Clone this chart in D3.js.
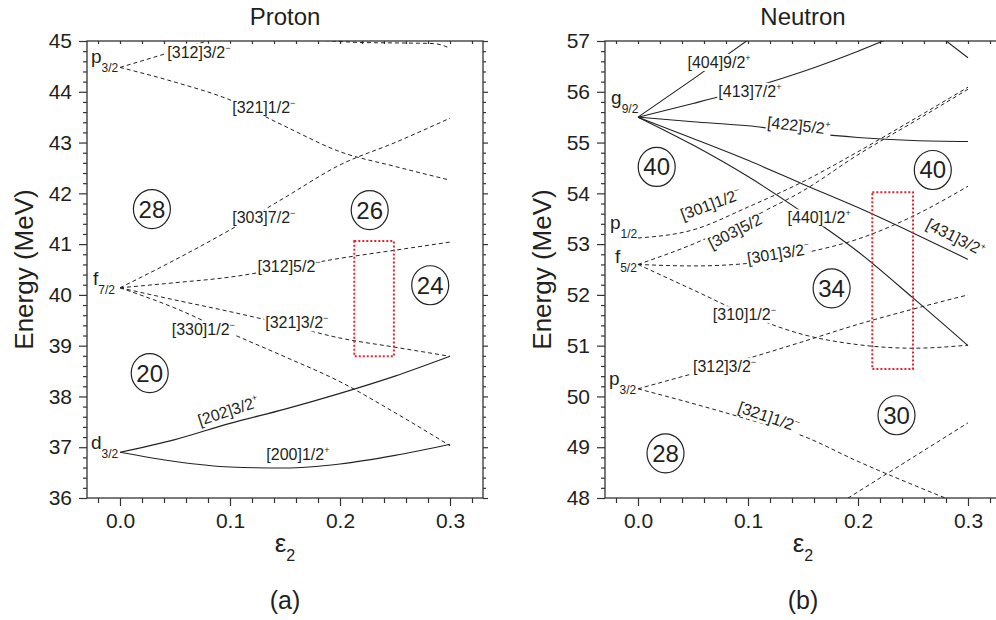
<!DOCTYPE html>
<html>
<head>
<meta charset="utf-8">
<script src="https://cdn.jsdelivr.net/npm/d3@7"></script>
<style>
body { margin: 0; background: #fff; }
text { font-family: "Liberation Sans", Arial, sans-serif; fill: #231f20; }
</style>
</head>
<body>
<script>
// deformation grid for the Nilsson levels
var epsGrid = [0, 0.05, 0.1, 0.15, 0.2, 0.25, 0.3];

// proton levels (MeV)
var p202_32 = [36.9, 37.15, 37.47, 37.75, 38.06, 38.4, 38.79];
var p200_12 = [36.9, 36.72, 36.61, 36.59, 36.67, 36.84, 37.06];
var p303_72 = [40.14, 40.69, 41.28, 41.92, 42.56, 43.0, 43.48];
var p312_52 = [40.14, 40.24, 40.35, 40.53, 40.72, 40.88, 41.04];
var p321_32 = [40.14, 39.9, 39.67, 39.42, 39.15, 38.97, 38.79];
var p330_12 = [40.14, 39.74, 39.25, 38.78, 38.29, 37.68, 37.03];
var p321_12 = [44.48, 44.19, 43.84, 43.32, 42.82, 42.53, 42.26];
var p312_32Eps = [0, 0.04, 0.085];
var p312_32 = [44.48, 44.74, 45.04];
var pTopEps = [0.18, 0.22, 0.26, 0.285, 0.3];
var pTop = [45.02, 44.97, 44.96, 44.95, 44.86];

// neutron levels (MeV)
var n404_92Eps = [0, 0.05, 0.1];
var n404_92 = [55.5, 56.25, 57.02];
var n413_72Eps = [0, 0.05, 0.1, 0.15, 0.2, 0.25];
var n413_72 = [55.5, 55.77, 56.06, 56.4, 56.8, 57.25];
var nTopEps = [0.27, 0.3];
var nTop = [57.17, 56.67];
var n422_52 = [55.5, 55.41, 55.33, 55.2, 55.1, 55.04, 55.02];
var n431_32 = [55.5, 55.08, 54.65, 54.18, 53.72, 53.22, 52.7];
var n440_12 = [55.5, 54.95, 54.33, 53.62, 52.85, 51.94, 51.0];
var n301_12 = [53.12, 53.28, 53.73, 54.23, 54.82, 55.45, 56.09];
var n303_52 = [52.6, 53.0, 53.5, 54.05, 54.76, 55.4, 56.05];
var n301_32 = [52.6, 52.57, 52.62, 52.82, 53.1, 53.55, 54.14];
var n310_12 = [52.6, 52.1, 51.6, 51.22, 51.02, 50.95, 51.01];
var n312_32 = [50.15, 50.45, 50.75, 51.08, 51.42, 51.72, 52.0];
var n321_12 = [50.15, 49.86, 49.55, 49.22, 48.72, 48.26, 47.82];
var nLowEps = [0.18, 0.3];
var nLow = [47.85, 49.48];

// level labels: text, parity, eps, E, angle
var protonLabels = [
    ["[312]3/2", "-", 0.043, 44.67, 0],
    ["[321]1/2", "-", 0.102, 43.58, 0],
    ["[303]7/2", "-", 0.102, 41.41, 0],
    ["[312]5/2", "-", 0.125, 40.45, 0],
    ["[321]3/2", "-", 0.132, 39.34, 0],
    ["[330]1/2", "-", 0.047, 39.21, 0],
    ["[202]3/2", "+", 0.0727, 37.42, -18],
    ["[200]1/2", "+", 0.133, 36.74, 0]
];
var neutronLabels = [
    ["[404]9/2", "+", 0.045, 56.47, 0],
    ["[413]7/2", "+", 0.073, 55.9, 0],
    ["[422]5/2", "+", 0.117, 55.29, 6],
    ["[301]1/2", "-", 0.041, 53.47, -20],
    ["[303]5/2", "-", 0.067, 52.9, -27],
    ["[440]1/2", "+", 0.136, 53.41, 0],
    ["[431]3/2", "+", 0.261, 53.32, 27],
    ["[301]3/2", "-", 0.1, 52.61, -9],
    ["[310]1/2", "-", 0.068, 51.5, 0],
    ["[312]3/2", "-", 0.05, 50.48, 0],
    ["[321]1/2", "-", 0.09, 49.7, 19]
];

// spherical orbitals: l, j, eps, E
var protonShells = [["p", "3/2", -0.0264, 44.57], ["f", "7/2", -0.0245, 40.19], ["d", "3/2", -0.0264, 36.96]];
var neutronShells = [["g", "9/2", -0.0245, 55.76], ["p", "1/2", -0.0255, 53.3], ["f", "5/2", -0.021, 52.63], ["p", "3/2", -0.0264, 50.22]];

// magic numbers: value, eps, E
var protonMagic = [[28, 0.029, 41.69], [26, 0.227, 41.67], [24, 0.282, 40.19], [20, 0.027, 38.46]];
var neutronMagic = [[40, 0.017, 54.52], [40, 0.268, 54.46], [34, 0.176, 52.13], [30, 0.235, 49.63], [28, 0.025, 48.88]];

// highlighted deformation window: eps0, eps1, E0, E1
var protonWindow = [0.213, 0.249, 38.79, 41.06];
var neutronWindow = [0.213, 0.25, 50.54, 54.02];

function onGrid(vals) { return { eps: epsGrid, E: vals }; }
function own(eps, vals) { return { eps: eps, E: vals }; }

var protonLevels = [
    [onGrid(p202_32), "+"], [onGrid(p200_12), "+"], [onGrid(p303_72), "-"],
    [onGrid(p312_52), "-"], [onGrid(p321_32), "-"], [onGrid(p330_12), "-"],
    [onGrid(p321_12), "-"], [own(p312_32Eps, p312_32), "-"], [own(pTopEps, pTop), "-"]
];
var neutronLevels = [
    [own(n404_92Eps, n404_92), "+"], [own(n413_72Eps, n413_72), "+"], [own(nTopEps, nTop), "+"],
    [onGrid(n422_52), "+"], [onGrid(n431_32), "+"], [onGrid(n440_12), "+"],
    [onGrid(n301_12), "-"], [onGrid(n303_52), "-"], [onGrid(n301_32), "-"],
    [onGrid(n310_12), "-"], [onGrid(n312_32), "-"], [onGrid(n321_12), "-"],
    [own(nLowEps, nLow), "-"]
];


function drawPanel(svg, p) {
    var top = 41, bottom = 498, width = 396;
    var x = d3.scaleLinear().domain([-0.03, 0.33]).range([p.left, p.left + width]);
    var y = d3.scaleLinear().domain(p.yDomain).range([bottom, top]);
    var g = svg.append("g");

    g.append("clipPath").attr("id", "clip" + p.id)
        .append("rect").attr("x", p.left).attr("y", top)
        .attr("width", width).attr("height", bottom - top);

    // axes
    var xMajor = [0, 0.1, 0.2, 0.3];
    var xMinor = d3.range(-1, 17).filter(function (i) { return i % 5 !== 0; }).map(function (i) { return i / 50; });
    var yMajor = d3.range(p.yDomain[0], p.yDomain[1] + 1);
    var yMinor = d3.range(p.yDomain[0] * 5, p.yDomain[1] * 5 + 1)
        .filter(function (v) { return v % 5 !== 0; }).map(function (v) { return v / 5; });

    var axes = [
        [d3.axisBottom(x).tickValues(xMajor).tickSize(8).tickPadding(7).tickFormat(d3.format(".1f")), "translate(0," + bottom + ")"],
        [d3.axisBottom(x).tickValues(xMinor).tickSize(5).tickFormat(""), "translate(0," + bottom + ")"],
        [d3.axisTop(x).tickValues(xMajor.concat(xMinor)).tickSize(-3).tickFormat(""), "translate(0," + top + ")"],
        [d3.axisLeft(y).tickValues(yMajor).tickSize(8).tickPadding(7).tickFormat(d3.format("d")), "translate(" + p.left + ",0)"],
        [d3.axisLeft(y).tickValues(yMinor).tickSize(4).tickFormat(""), "translate(" + p.left + ",0)"],
        [d3.axisRight(y).tickValues(yMajor).tickSize(5).tickFormat(""), "translate(" + (p.left + width) + ",0)"],
        [d3.axisRight(y).tickValues(yMinor).tickSize(3).tickFormat(""), "translate(" + (p.left + width) + ",0)"]
    ];
    axes.forEach(function (a) {
        var ax = g.append("g").attr("transform", a[1]).call(a[0]);
        ax.select(".domain").remove();
        ax.selectAll("line").attr("stroke", "#333").attr("stroke-width", 1.2);
        ax.selectAll("text").attr("font-size", 21).attr("fill", "#231f20")
            .style("font-family", "'Liberation Sans', Arial, sans-serif");
    });

    g.append("rect").attr("x", p.left).attr("y", top).attr("width", width).attr("height", bottom - top)
        .attr("fill", "none").attr("stroke", "#333").attr("stroke-width", 1.3);

    // levels
    var line = d3.line()
        .x(function (d) { return x(d[0]); })
        .y(function (d) { return y(d[1]); })
        .curve(d3.curveMonotoneX);

    var curves = g.append("g").attr("clip-path", "url(#clip" + p.id + ")");
    p.levels.forEach(function (lv) {
        var pts = lv[0].eps.map(function (e, i) { return [e, lv[0].E[i]]; });
        curves.append("path").attr("d", line(pts))
            .attr("fill", "none").attr("stroke", "#222")
            .attr("stroke-width", lv[1] === "+" ? 1.1 : 1)
            .attr("stroke-dasharray", lv[1] === "+" ? null : "4,3");
    });

    // highlighted window
    var w = p.window;
    g.append("rect").attr("x", x(w[0])).attr("y", y(w[3]))
        .attr("width", x(w[1]) - x(w[0])).attr("height", y(w[2]) - y(w[3]))
        .attr("fill", "none").attr("stroke", "#e8232a").attr("stroke-width", 2)
        .attr("stroke-dasharray", "2,2");

    // level labels with white mask
    p.labels.forEach(function (d) {
        var grp = g.append("g")
            .attr("transform", "translate(" + x(d[2]) + "," + y(d[3]) + ") rotate(" + d[4] + ")");
        var t = grp.append("text").attr("font-size", 16);
        t.append("tspan").text(d[0]);
        t.append("tspan").attr("font-size", 9).attr("dy", -7).text(d[1] === "+" ? "+" : "\u2212");
        var b = t.node().getBBox();
        grp.insert("rect", "text").attr("x", b.x - 1).attr("y", b.y + 1)
            .attr("width", b.width + 2).attr("height", b.height - 1).attr("fill", "#fff");
    });

    // spherical orbitals
    p.shells.forEach(function (d) {
        var t = g.append("text").attr("x", x(d[2])).attr("y", y(d[3])).attr("font-size", 19);
        t.append("tspan").text(d[0]);
        t.append("tspan").attr("font-size", 12).attr("dy", 9).text(d[1]);
    });

    // magic numbers
    p.magic.forEach(function (d) {
        g.append("ellipse").attr("cx", x(d[1])).attr("cy", y(d[2]))
            .attr("rx", 18.5).attr("ry", 19.5)
            .attr("fill", "#fff").attr("stroke", "#222").attr("stroke-width", 1.2);
        g.append("text").attr("x", x(d[1])).attr("y", y(d[2]) + 8.5)
            .attr("text-anchor", "middle").attr("font-size", 24).text(d[0]);
    });

    // titles and axis labels
    var cx = x(0.15);
    g.append("text").attr("x", cx).attr("y", 25).attr("text-anchor", "middle")
        .attr("font-size", 24).text(p.title);
    g.append("text").attr("transform", "translate(" + (p.left - 54) + "," + ((top + bottom) / 2) + ") rotate(-90)")
        .attr("text-anchor", "middle").attr("font-size", 26).text("Energy (MeV)");
    var el = g.append("text").attr("x", cx).attr("y", 552).attr("text-anchor", "middle").attr("font-size", 26);
    el.append("tspan").text("\u03b5");
    el.append("tspan").attr("font-size", 16).attr("dy", 9).text("2");
    g.append("text").attr("x", cx).attr("y", 609).attr("text-anchor", "middle")
        .attr("font-size", 25).text(p.tag);
}


window.onload = function () {
    var svg = d3.select("body").append("svg").attr("width", 996).attr("height", 620);

    drawPanel(svg, {
        id: "a", left: 87, yDomain: [36, 45], title: "Proton", tag: "(a)",
        levels: protonLevels, labels: protonLabels, shells: protonShells,
        magic: protonMagic, window: protonWindow
    });
    drawPanel(svg, {
        id: "b", left: 605, yDomain: [48, 57], title: "Neutron", tag: "(b)",
        levels: neutronLevels, labels: neutronLabels, shells: neutronShells,
        magic: neutronMagic, window: neutronWindow
    });
};
</script>
</body>
</html>
